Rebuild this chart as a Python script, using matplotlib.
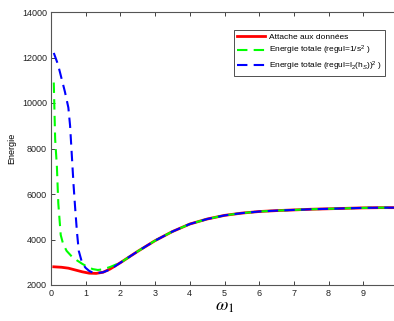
import numpy as np
import matplotlib
matplotlib.use("Agg")
import matplotlib.pyplot as plt

# shared tail of the three curves (omega_1 >= 2)
tail_x = [2.0, 2.5, 3.0, 3.5, 4.0, 4.5, 5.0, 5.5, 6.0, 6.5, 7.0, 7.5, 8.0, 8.5, 9.0, 9.5, 9.9]
tail_y = [2980, 3480, 3950, 4350, 4680, 4900, 5060, 5160, 5230, 5270, 5300, 5330, 5350, 5370, 5390, 5400, 5400]

# data term
red_x = [0.08, 0.3, 0.5, 0.7, 0.9, 1.1, 1.3, 1.5, 1.7]
red_y = [2800, 2780, 2740, 2660, 2580, 2520, 2510, 2560, 2700]

# total energy, regul = 1/s^2
green_x = [0.08, 0.12, 0.17, 0.21, 0.28, 0.35, 0.45, 0.6, 0.75, 0.9, 1.05, 1.2, 1.35, 1.5, 1.7]
green_y = [10900, 8400, 7200, 5600, 4200, 3800, 3500, 3250, 3080, 2930, 2800, 2700, 2660, 2690, 2790]

# total energy, regul = l2(h_S)^2
blue_x = [0.08, 0.2, 0.3, 0.4, 0.5, 0.55, 0.6, 0.65, 0.7, 0.75, 0.8, 0.9, 1.0, 1.1, 1.2, 1.3, 1.5, 1.7]
blue_y = [12200, 11700, 11100, 10500, 9800, 9000, 7700, 6400, 5300, 4300, 3500, 2950, 2750, 2620, 2550, 2520, 2560, 2680]

labels = ["Attache aux donn\u00e9es",
          "Energie totale (regul=1/s$^2$ )",
          "Energie totale (regul=l$_2$(h$_S$))$^2$ )"]

plt.rcParams['font.family'] = ['Liberation Sans', 'DejaVu Sans']
plt.rcParams['mathtext.fontset'] = 'custom'
plt.rcParams['mathtext.rm'] = 'Liberation Sans'
plt.rcParams['mathtext.it'] = 'Liberation Sans:italic'

fig = plt.figure(figsize=(3.94, 3.21), dpi=100)
ax = fig.add_axes([51/394, 36/321, 347/394, 273/321])

ax.plot(red_x + tail_x, red_y + tail_y, color=(1, 0, 0), lw=2.0, label=labels[0])
ax.plot(green_x + tail_x, green_y + tail_y, color=(0, 1, 0), lw=1.5, ls=(0, (5, 3)), label=labels[1])
ax.plot(blue_x + tail_x, blue_y + tail_y, color=(0, 0, 1), lw=1.5, ls=(0, (5, 3)), label=labels[2])

ax.set_xlim(0, 10)
ax.set_ylim(2000, 14000)
ax.set_xticks(range(0, 10))
ax.set_yticks(range(2000, 14001, 2000))
ax.tick_params(direction='in', top=True, right=False, labelsize=6.5, length=3, width=0.6, colors='#222222', pad=3)
for side in ['left', 'bottom', 'top']:
    ax.spines[side].set_color('#555555')
    ax.spines[side].set_linewidth(0.8)
ax.spines['right'].set_visible(False)

ax.set_ylabel("Energie", fontsize=6.5, labelpad=4)
ax.set_xlabel(r"$\omega_1$", fontsize=13, labelpad=0, math_fontfamily='stix')

leg = ax.legend(loc='upper right', bbox_to_anchor=(385/394, 1 - 30/321),
                bbox_transform=fig.transFigure, fontsize=6, frameon=True, fancybox=False,
                handlelength=3.4, handletextpad=0.4, labelspacing=0.3, borderpad=0.4,
                borderaxespad=0)
leg.get_frame().set_edgecolor('black')
leg.get_frame().set_linewidth(0.6)

fig.savefig("out.png", dpi=100)
